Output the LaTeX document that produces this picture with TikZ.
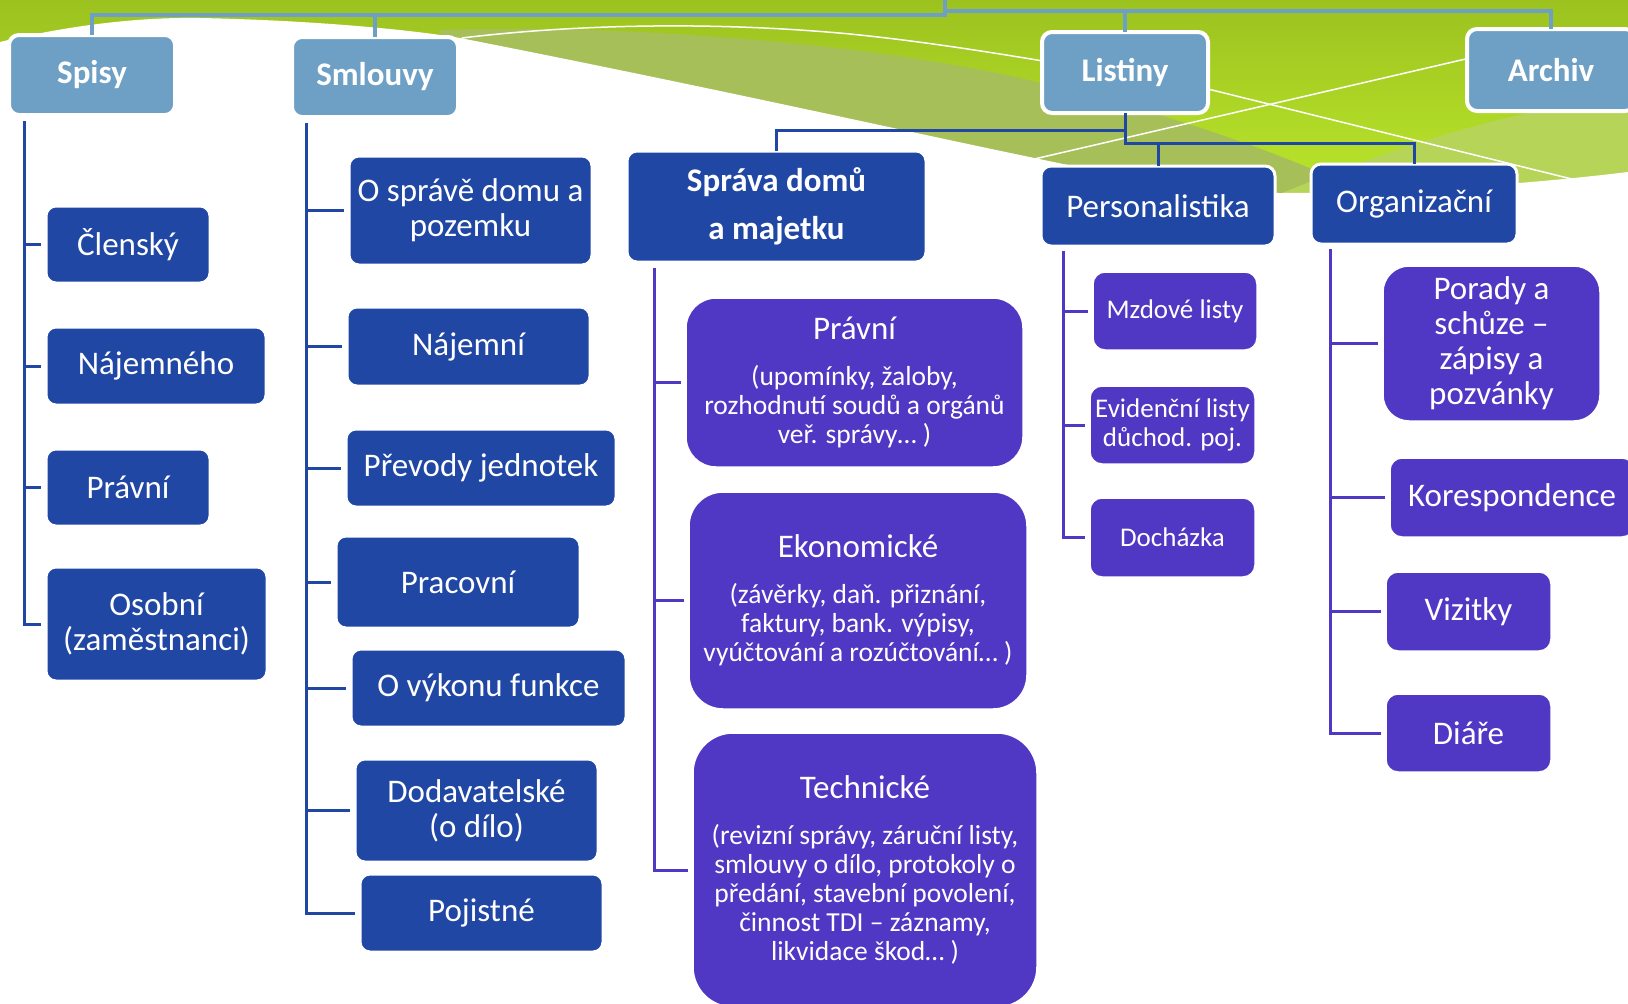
\documentclass[tikz,border=0pt]{standalone}
\usepackage{fontspec}
\setmainfont{Carlito}

\definecolor{topblue}{HTML}{6E9FC4}
\definecolor{boxblue}{HTML}{2147A4}
\definecolor{boxviolet}{HTML}{5038C4}
\definecolor{leafgreen}{HTML}{9CC21F}
\definecolor{limegreen}{HTML}{BBE72C}
\definecolor{olivegreen}{HTML}{A7BF58}
\definecolor{palegreen}{HTML}{B6D458}

\newcommand\boxtitle{\fontsize{33}{35}\selectfont}
\newcommand\boxnote{\fontsize{27.5}{29}\selectfont}

\tikzset{every picture/.style={line width=0.75pt}}
\tikzset{
  topbox/.style={fill=topblue, draw=white, line width=4, rounded corners=10, text=white,
    font=\bfseries\fontsize{33}{38}\selectfont, align=center, inner sep=0, outer sep=0},
  bluebox/.style={fill=boxblue, draw=white, line width=3, rounded corners=10, text=white,
    font=\boxtitle, align=center, inner sep=0, outer sep=0},
  violetbox/.style={fill=boxviolet, draw=white, line width=1.5, rounded corners=12, text=white,
    font=\boxtitle, align=flush center, inner sep=0, outer sep=0},
  toplink/.style={draw=topblue, line width=3.5},
  bluelink/.style={draw=boxblue, line width=3},
  violetlink/.style={draw=boxviolet, line width=3},
  leaf/.style={shorten >=5pt},
}

\begin{document}
\begin{tikzpicture}[x=1pt,y=1pt,yscale=-1]
\useasboundingbox (0,0) rectangle (1628,1004);

% green wave at the top
\fill[top color=leafgreen, bottom color=limegreen] (0,0) rectangle (1628,200);
\fill[olivegreen] (440,30) .. controls (600,24) and (850,40) .. (1020,78) .. controls (1150,108) and (1280,150) .. (1380,200) -- (1380,260) -- (440,260) -- cycle;
\fill[palegreen] (1230,215) .. controls (1380,150) and (1500,112) .. (1628,95) -- (1628,260) -- (1230,260) -- cycle;
\draw[white, line width=1.5] (462,38) .. controls (560,26) and (700,20) .. (850,34) .. controls (950,44) and (1050,62) .. (1212,90) -- (1600,186);
\draw[white, line width=1.5] (1470,58) -- (1030,160);
\fill[white] (0,42) .. controls (70,25) and (140,17) .. (200,18) .. controls (300,20) and (400,28) .. (460,38) .. controls (700,85) and (900,130) .. (1020,155) .. controls (1130,178) and (1200,193) .. (1280,193) .. controls (1400,193) and (1520,185) .. (1628,172) -- (1628,1004) -- (0,1004) -- cycle;

% top level
\node[topbox, minimum width=166, minimum height=80] (spisy) at (92,75) {Spisy};
\node[topbox, minimum width=166, minimum height=80] (smlouvy) at (375,77) {Smlouvy};
\node[topbox, minimum width=166, minimum height=81] (listiny) at (1125,72.5) {Listiny};
\node[topbox, minimum width=168, minimum height=82] (archiv) at (1551,70) {Archiv};

% under Listiny
\node[bluebox, font=\bfseries\fontsize{33}{48}\selectfont, minimum width=299, minimum height=111] (sprava) at (776.5,206.5) {Správa domů\\a majetku};
\node[bluebox, minimum width=234, minimum height=80] (personal) at (1158,206) {Personalistika};
\node[bluebox, minimum width=206, minimum height=80] (organiz) at (1414,204) {Organizační};

% Spisy
\node[bluebox, minimum width=164, minimum height=77] (clensky) at (128,244.5) {Členský};
\node[bluebox, minimum width=220, minimum height=78] (najemneho) at (156,366) {Nájemného};
\node[bluebox, minimum width=164, minimum height=77] (pravni) at (128,487.5) {Právní};
\node[bluebox, minimum width=221, minimum height=114] (osobni) at (156.5,624) {Osobní\\(zaměstnanci)};

% Smlouvy
\node[bluebox, minimum width=243, minimum height=109] (ospravedomu) at (470.5,210.5) {O správě domu a\\pozemku};
\node[bluebox, minimum width=243, minimum height=79] (najemni) at (468.5,346.5) {Nájemní};
\node[bluebox, minimum width=270, minimum height=78] (prevody) at (481,468) {Převody jednotek};
\node[bluebox, minimum width=244, minimum height=92] (pracovni) at (458,582) {Pracovní};
\node[bluebox, minimum width=275, minimum height=78] (vykon) at (488.5,688) {O výkonu funkce};
\node[bluebox, minimum width=243, minimum height=103] (dodavatel) at (476.5,810.5) {Dodavatelské\\(o dílo)};
\node[bluebox, minimum width=243, minimum height=78] (pojistne) at (481.5,913) {Pojistné};

% Sprava domu a majetku
\node[violetbox, rounded corners=30, minimum width=337, minimum height=169, text width=330] (spravni) at (854.5,382.5)
  {\boxtitle Právní\par\vspace{17pt}\boxnote (upomínky, žaloby,\\rozhodnutí soudů a orgánů\\veř. správy… )\par};
\node[violetbox, rounded corners=34, minimum width=338, minimum height=217, text width=330] (ekonom) at (858,600.5)
  {\boxtitle Ekonomické\par\vspace{17pt}\boxnote (závěrky, daň. přiznání,\\faktury, bank. výpisy,\\vyúčtování a rozúčtování… )\par};
\node[violetbox, rounded corners=40, minimum width=344, minimum height=274, text width=336] (technic) at (865,870)
  {\boxtitle Technické\par\vspace{17pt}\boxnote (revizní správy, záruční listy,\\smlouvy o dílo, protokoly o\\předání, stavební povolení,\\činnost TDI – záznamy,\\likvidace škod… )\par};

% Personalistika
\node[violetbox, font=\fontsize{27}{29}\selectfont, minimum width=164, minimum height=78] (mzdove) at (1175,311) {Mzdové listy};
\node[violetbox, font=\fontsize{27}{29}\selectfont, minimum width=165, minimum height=78] (evidencni) at (1172.5,425) {Evidenční listy\\důchod. poj.};
\node[violetbox, font=\fontsize{27}{29}\selectfont, minimum width=165, minimum height=79] (dochazka) at (1172.5,537.5) {Docházka};

% Organizacni
\node[violetbox, rounded corners=26, minimum width=217, minimum height=155] (porady) at (1491.5,343.5) {Porady a\\schůze –\\zápisy a\\pozvánky};
\node[violetbox, minimum width=244, minimum height=79] (korespond) at (1512,497.5) {Korespondence};
\node[violetbox, minimum width=165, minimum height=79] (vizitky) at (1468.5,611.5) {Vizitky};
\node[violetbox, minimum width=165, minimum height=78] (diare) at (1468.5,733) {Diáře};

% connectors
\coordinate (root) at (945,0);
\coordinate (topleft) at (945,15);
\coordinate (topright) at (945,11);
\draw[toplink] (root) -- (topleft) -| (spisy.north);
\draw[toplink] (topleft) -| (smlouvy.north);
\draw[toplink] (root) -- (topright) -| (listiny.north);
\draw[toplink] (topright) -| (archiv.north);

\draw[bluelink] (listiny.south) -- ++(0,17) -| (sprava.north);
\draw[bluelink] (listiny.south) -- ++(0,30) -| (personal.north);
\draw[bluelink] (listiny.south) -- ++(0,30) -| (organiz.north);

\coordinate (spisyrail) at (24,121);
\foreach \leafnode in {clensky,najemneho,pravni,osobni}
  \draw[bluelink, leaf] (spisyrail) |- (\leafnode.west);

\coordinate (smlouvyrail) at (306,123);
\foreach \leafnode in {ospravedomu,najemni,prevody,pracovni,vykon,dodavatel,pojistne}
  \draw[bluelink, leaf] (smlouvyrail) |- (\leafnode.west);

\coordinate (spravarail) at (654,268);
\foreach \leafnode in {spravni,ekonom,technic}
  \draw[violetlink, leaf] (spravarail) |- (\leafnode.west);

\coordinate (personalrail) at (1063,251);
\foreach \leafnode in {mzdove,evidencni,dochazka}
  \draw[violetlink, leaf] (personalrail) |- (\leafnode.west);

\coordinate (organizrail) at (1330,249);
\foreach \leafnode in {porady,korespond,vizitky,diare}
  \draw[violetlink, leaf] (organizrail) |- (\leafnode.west);

\end{tikzpicture}
\end{document}
